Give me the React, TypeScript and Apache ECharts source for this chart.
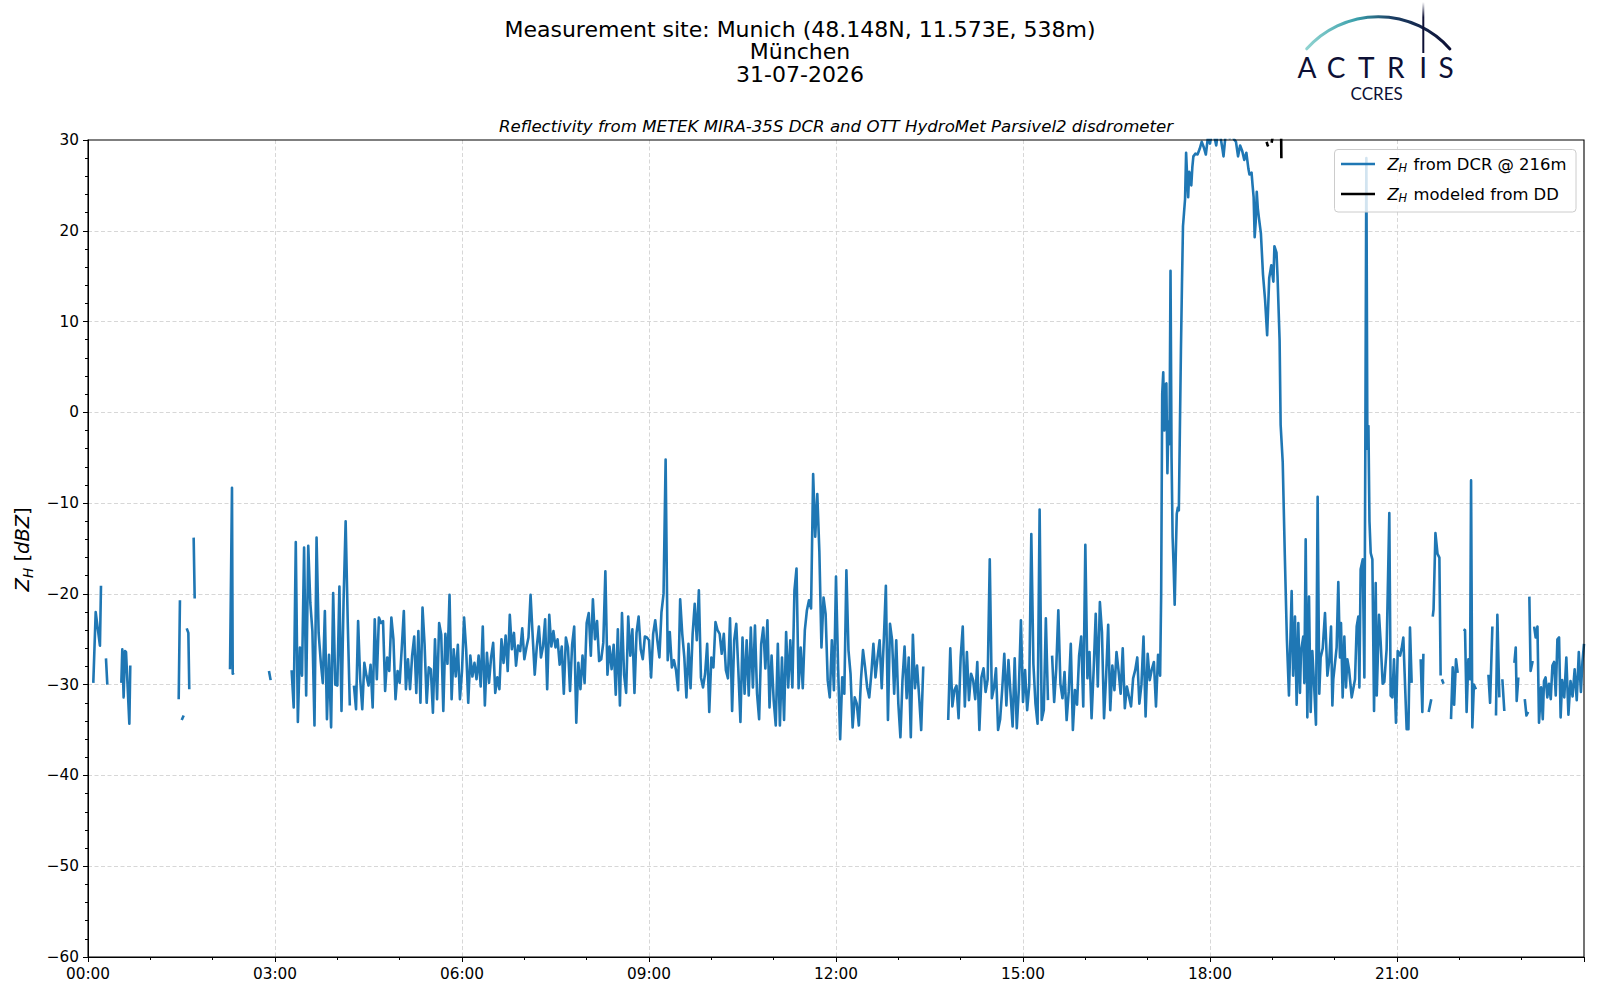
import React, { useEffect, useRef } from 'react';
import * as echarts from 'echarts';

// ---------- axis labels ----------
const xTickLabels = ['00:00', '03:00', '06:00', '09:00', '12:00', '15:00', '18:00', '21:00'];
const yTickLabels = ['\u221260', '\u221250', '\u221240', '\u221230', '\u221220', '\u221210', '0', '10', '20', '30'];

// ---------- DCR reflectivity (time in minutes since 00:00, value in dBZ) ----------
// sparse early pieces
const dcrEarlySegments: number[][][] = [
  [[5.1, -29.8], [7.4, -22.0], [11.5, -25.7], [12.5, -19.1]],
  [[17.3, -27.1], [18.6, -30.0]],
  [[32.1, -29.8], [33.0, -26.1], [34.3, -31.4], [35.6, -26.3], [36.6, -26.4], [39.8, -34.3], [40.7, -27.9]],
  [[87.3, -31.6], [88.5, -20.7]],
  [[90.2, -33.9], [92.1, -33.4]],
  [[95.0, -23.8], [96.6, -24.3], [97.5, -30.5]],
  [[101.7, -13.8], [102.7, -20.5]],
  [[136.7, -28.3], [138.6, -8.3], [139.3, -28.8], [140.5, -28.7]],
  [[174.2, -28.5], [175.8, -29.5]],
];

// dense part, one value every 2 minutes
const BLOCK_STEP = 2;
const BLOCK_A_START = 196;
const dcrBlockA: (number | null)[] = [
  -28.4, -32.5, -14.3, -34.1, -25.9, -29.0, -14.9, -31.2, -14.7, -21.0,
  -24.1, -34.5, -13.8, -24.3, -27.4, -29.8, -21.9, -33.8, -26.7, -34.7,
  -19.9, -30.0, -30.1, -19.2, -32.9, -20.8, -12.0, -23.0, -32.3, null,
  -30.1, -32.7, -23.0, -29.4, -32.7, -27.6, -29.0, -30.1, -27.8, -32.5,
  -22.8, -29.4, -22.6, -23.2, -23.0, -30.7, -27.0, -28.5, -22.6, -25.0,
  -31.6, -28.5, -29.8, -26.0, -21.9, -30.5, -27.2, -30.5, -26.8, -24.7,
  -30.9, -24.1, -32.0, -21.5, -25.6, -32.0, -28.1, -28.3, -33.1, -25.0,
  -31.6, -23.2, -24.5, -32.9, -24.4, -27.7, -20.1, -31.6, -26.1, -29.1,
  -25.6, -31.6, -28.5, -22.6, -26.1, -32.0, -26.8, -29.1, -27.6, -29.4,
  -26.8, -30.2, -23.6, -32.3, -26.5, -29.8, -27.0, -25.4, -30.9, -29.2,
  -30.5, -25.0, -27.6, -24.6, -28.5, -22.3, -26.1, -24.3, -27.9, -25.7,
  -26.3, -23.8, -27.2, -25.9, -24.8, -20.1, -24.6, -28.9, -25.8, -23.6,
  -27.0, -25.8, -22.8, -30.5, -22.3, -25.8, -24.1, -25.9, -25.0, -27.8,
  -25.8, -31.0, -24.8, -25.9, -30.7, -25.6, -23.6, -34.2, -27.6, -30.5,
  -26.8, -29.8, -23.2, -22.1, -26.8, -20.6, -25.0, -23.0, -27.4, -27.2,
  -25.4, -17.5, -28.9, -25.8, -28.3, -25.6, -31.1, -23.9, -32.3, -22.1,
  -28.9, -30.9, -22.5, -26.8, -23.9, -30.9, -24.3, -22.5, -26.1, -27.2,
  -24.7, -24.8,
];

const BLOCK_B_START = 540;
const dcrBlockB: (number | null)[] = [
  -25.1, -29.2, -24.4, -22.9, -25.1, -27.0, -22.0, -20.0, -5.2, -27.3,
  -24.2, -28.1, -27.3, -28.4, -30.6, -20.6, -24.4, -27.0, -31.4, -25.5,
  -30.4, -24.4, -21.1, -25.1, -19.6, -29.2, -30.3, -28.8, -25.5, -33.0,
  -27.0, -28.1, -23.1, -24.0, -24.4, -26.6, -24.4, -28.4, -29.3, -22.7,
  -32.9, -25.1, -23.3, -28.4, -34.1, -24.8, -31.0, -25.1, -31.2, -23.7,
  -30.3, -23.5, -31.0, -33.8, -25.5, -23.7, -28.2, -22.9, -32.5, -26.8,
  -31.7, -34.5, -25.5, -34.5, -27.0, -33.9, -24.2, -30.3, -25.1, -30.3,
  -19.6, -17.2, -30.4, -25.9, -30.4, -24.0, -21.8, -20.7, -21.6, -6.8,
  -13.7, -9.0, -15.4, -25.9, -20.4, -22.2, -29.5, -31.4, -25.1, -30.6,
  -18.1, -28.0, -36.0, -29.2, -31.0, -17.4, -26.2, -28.8, -34.7, -31.4,
  -32.1, -34.5, -29.5, -26.2, -28.1, -30.3, -31.4, -28.8, -25.5, -29.2,
  -27.0, -25.1, -30.4, -25.1, -19.1, -33.9, -23.3, -25.1, -31.0, -25.1,
  -32.1, -35.8, -29.5, -25.8, -31.5, -27.0, -35.8, -24.5, -30.4, -27.9,
  -31.3, -35.0, -28.0, null, null, null, null, null, null, null,
  null, null, null, null, -33.9, -26.0, -32.4, -30.6, -30.1, -33.7,
  -27.0, -23.6, -32.4, -26.4, -31.7, -28.8, -29.5, -31.6, -27.5, -35.0,
  -29.2, -28.2, -30.8, -29.4, -16.2, -31.5, -30.4, -28.2, -35.0, -33.8,
  -30.5, -26.6, -32.3, -27.3, -31.0, -34.6, -27.1, -34.8, -30.5, -22.9,
  -31.9, -28.4, -32.8, -30.1, -13.4, -27.7, -32.1, -34.3, -10.7, -33.9,
  -32.8, -22.7, -31.7, null, -26.8, -31.9, -28.2, -21.8, -29.9, -31.5,
  -28.6, -33.9, -30.8, -25.5, -35.0, -30.6, -32.2, -26.8, -24.7, -32.4,
  -14.6, -29.3, -26.4, -33.7, -28.4, -22.2, -30.2, -20.9, -24.2, -33.7,
  -29.1, -23.4, -32.8, -27.9, -30.6, -26.4, -28.5, -31.0, -26.0, -32.6,
  -30.2, -31.3, -32.4, -29.3, -28.4, -27.0, -32.1, -30.0, -24.7, -33.5,
  -26.6, -29.5, -28.3, -27.5, -32.4, -26.7,
];

// rain event (about one value per minute)
const dcrRainEvent: number[][] = [
  [1032, -29.0], [1033, -20.0], [1034, 2.0], [1035, 4.4], [1036, -2.0], [1037, 3.0], [1038, 3.2],
  [1039, -6.7], [1040, -1.0], [1041, -3.5], [1042, 15.6], [1043, -5.0], [1044, -13.7], [1045, -17.0],
  [1046, -21.2], [1047, -16.0], [1048, -11.2], [1049, -10.5], [1050, -10.8], [1051, -2.0], [1052, 6.7],
  [1053, 14.0], [1054, 20.5], [1055, 22.0], [1056, 23.5], [1057, 28.6], [1058, 26.0], [1059, 23.7],
  [1060, 26.5], [1061, 26.0], [1062, 25.0], [1063, 27.0], [1064, 28.2], [1066, 28.5], [1068, 28.4],
  [1070, 29.0], [1072, 29.8], [1074, 29.2], [1076, 28.4], [1078, 30.3], [1080, 29.6], [1082, 31.0],
  [1084, 30.5], [1086, 29.4], [1088, 31.2], [1090, 30.4], [1092, 29.0], [1093, 28.2], [1095, 30.6],
  [1097, 31.5], [1099, 30.2], [1101, 31.3], [1103, 30.1], [1105, 29.8], [1107, 28.2], [1109, 29.4],
  [1111, 28.8], [1113, 27.8], [1115, 28.6], [1117, 26.8], [1118, 26.2], [1120, 26.4], [1121, 25.0],
  [1122, 23.7], [1123, 19.3], [1124, 21.0], [1125, 24.3], [1126, 22.5], [1127, 21.5], [1129, 19.7],
  [1131, 15.2], [1133, 12.4], [1135, 8.5], [1137, 14.8], [1139, 16.2], [1141, 14.4], [1142, 18.3],
  [1144, 17.6], [1145, 15.0], [1147, 7.9], [1148, -1.4], [1150, -5.5], [1152, -15.7], [1154, -25.0],
  [1156, -31.2],
];

// after the rain
const dcrLateSegments: number[][][] = [
  [[1158.6, -19.7], [1160, -29.0], [1161.8, -22.5], [1163.4, -32.2], [1165, -23.2], [1166.6, -30.9],
   [1167.6, -26.3], [1169.8, -24.7], [1170.8, -29.8], [1172.1, -14.0], [1173.7, -33.6], [1175.3, -20.3],
   [1176.9, -33.0], [1178.5, -26.3], [1180.4, -30.5], [1182, -34.4], [1183.6, -9.3], [1185.2, -31.0],
   [1186.5, -27.0], [1188.5, -26.0], [1190.7, -22.1], [1193, -29.0], [1194.9, -27.2], [1196.5, -23.6],
   [1197.8, -32.3], [1198.7, -29.4], [1201.9, -25.9], [1203.5, -18.7], [1205.1, -27.0], [1206.1, -23.2],
   [1207.7, -31.4], [1209.3, -24.7], [1210.9, -30.3], [1212.2, -27.2], [1213.8, -28.3], [1216.4, -31.4],
   [1219.6, -29.4], [1221.2, -23.6], [1222.8, -22.5], [1223.8, -30.3], [1225, -17.3], [1227, -16.2],
   [1228.6, -29.2], [1229.5, -4.0], [1230.5, 28.0], [1231.5, -4.0], [1232.5, -1.5], [1233.5, -12.0],
   [1234.7, -15.5], [1236.3, -16.2], [1237.9, -32.9], [1239.5, -18.8], [1240.5, -31.2], [1242.7, -22.3],
   [1244.3, -25.4], [1246.2, -29.9], [1247.8, -29.7], [1250, -26.1], [1252.6, -11.1], [1253.9, -31.2],
   [1255.5, -31.4], [1257.1, -27.2], [1259, -34.2], [1260.7, -26.3], [1263, -26.8], [1264.5, -26.0],
   [1266.1, -24.8], [1269.3, -34.9], [1271, -34.9], [1272.5, -23.7], [1274.1, -29.8]],
  [[1282.8, -27.2], [1284.4, -33.0], [1285.4, -26.6]],
  [[1290.5, -33.0], [1293, -31.6]],
  [[1294.4, -22.5], [1295.2, -21.7], [1297, -13.3], [1299, -15.6], [1300.8, -16.0], [1302, -29.0]],
  [[1303.2, -29.4], [1304.8, -29.9]],
  [[1312, -33.8], [1313.6, -28.1], [1315, -32.2], [1316.8, -27.2], [1318.4, -28.7]],
  [[1324, -23.9], [1325.5, -24.0], [1327, -33.0], [1328.7, -27.2], [1330.3, -29.4], [1331.3, -7.5],
   [1332.5, -34.7], [1334, -30.0], [1336, -30.5]],
  [[1348, -28.9], [1349.6, -32.0], [1351.8, -23.6]],
  [[1355.3, -33.4], [1356.6, -22.3], [1358.5, -31.4]],
  [[1361.4, -29.4], [1363.3, -32.9]],
  [[1373, -27.6], [1374.3, -25.9], [1375.2, -31.8], [1376.8, -29.2]],
  [[1383, -31.6], [1384.6, -33.4], [1386.2, -33.0]],
  [[1387.4, -20.3], [1388.6, -28.5], [1390.6, -27.4]],
  [[1392, -23.6], [1393.5, -24.8], [1395.2, -23.6], [1396.7, -34.2], [1398.7, -30.3], [1400.3, -33.8],
   [1401.5, -29.6], [1403, -29.2], [1404.7, -31.4], [1406.3, -29.9], [1408, -31.6], [1409.6, -27.9],
   [1411.2, -27.5], [1412.8, -31.2], [1414.4, -25.0], [1416, -24.8], [1417.5, -33.6], [1419, -29.5],
   [1421, -31.4], [1423, -27.0], [1425, -33.3], [1427, -29.6], [1429, -31.3], [1431, -28.3],
   [1433, -31.7], [1435, -26.4], [1437, -30.8], [1438.5, -27.5], [1440, -25.5]],
];

// Z_H modeled from the disdrometer
const ddSegments: number[][][] = [
  [[1134.5, 29.8], [1135.5, 29.4], [1136.2, 29.5]],
  [[1139.3, 29.7], [1140.6, 30.5]],
  [[1148.4, 31.5], [1148.7, 28.0]],
];

function addSegments(out: any[], segs: number[][][]) {
  for (const s of segs) {
    for (const p of s) out.push([p[0], p[1]]);
    out.push([s[s.length - 1][0] + 0.05, '-']);
  }
}
function addBlock(out: any[], start: number, vals: (number | null)[]) {
  vals.forEach((v, i) => out.push([start + i * BLOCK_STEP, v === null ? '-' : v]));
}
function buildDcr(): any[] {
  const out: any[] = [];
  addSegments(out, dcrEarlySegments);
  addBlock(out, BLOCK_A_START, dcrBlockA);
  addBlock(out, BLOCK_B_START, dcrBlockB);
  dcrRainEvent.forEach((p) => out.push([p[0], p[1]]));
  addSegments(out, dcrLateSegments);
  return out;
}
function buildDd(): any[] {
  const out: any[] = [];
  addSegments(out, ddSegments);
  return out;
}

const FONT = '"DejaVu Sans", "Liberation Sans", sans-serif';
const LOGO_FONT = 'Lato, "Open Sans", sans-serif';

function txt(x: number, y: number, text: string, font: string, fill = '#000', align = 'left', extra: any = {}) {
  return {
    type: 'text',
    x,
    y,
    silent: true,
    style: {
      text,
      font,
      fill,
      align,
      verticalAlign: 'middle',
      textAlign: align,
      textVerticalAlign: 'middle',
    },
    ...extra,
  };
}

export default function App() {
  const ref = useRef<HTMLDivElement>(null);

  useEffect(() => {
    document.body.style.margin = '0';
    if (!ref.current) return;
    const chart = echarts.init(ref.current, undefined, { renderer: 'svg' });

    const navy = '#0d1035';
    const arcGrad = new echarts.graphic.LinearGradient(0, 0, 1, 0, [
      { offset: 0, color: '#8fd3d0' },
      { offset: 0.35, color: '#3a9fab' },
      { offset: 0.6, color: '#1b3d63' },
      { offset: 1, color: navy },
    ]);
    const barGrad = new echarts.graphic.LinearGradient(0, 0, 0, 1, [
      { offset: 0, color: '#ffffff' },
      { offset: 0.3, color: navy },
      { offset: 1, color: navy },
    ]);

    const legendRow = (y: number, color: string, label: string) => [
      {
        type: 'line',
        silent: true,
        shape: { x1: 1341, y1: y, x2: 1375, y2: y },
        style: { stroke: color, lineWidth: 2.6 },
        z: 101,
      },
      txt(1387.5, y, 'Z', 'italic 16.4px ' + FONT, '#000', 'left', { z: 101 }),
      txt(1398.6, y + 4.4, 'H', 'italic 11.4px ' + FONT, '#000', 'left', { z: 101 }),
      txt(1413.5, y, label, '16.4px ' + FONT, '#000', 'left', { z: 101 }),
    ];

    const letters = [
      ['A', 1307], ['C', 1336], ['T', 1366.3], ['R', 1395.8], ['I', 1423.2], ['S', 1446.2],
    ];

    const option: any = {
      animation: false,
      backgroundColor: '#ffffff',
      grid: {
        left: 88,
        top: 140,
        width: 1496,
        height: 817,
        show: false,
        containLabel: false,
      },
      xAxis: {
        type: 'value',
        min: 0,
        max: 1440,
        interval: 180,
        axisLine: { show: true, onZero: false, lineStyle: { color: '#000', width: 1 } },
        axisTick: { show: true, length: 5, lineStyle: { color: '#000', width: 1 } },
        minorTick: { show: true, splitNumber: 3, length: 3, lineStyle: { color: '#000', width: 1 } },
        axisLabel: {
          color: '#000',
          fontSize: 15.3,
          fontFamily: FONT,
          margin: 9,
          formatter: (v: number) => xTickLabels[Math.round(v / 180)] ?? '',
        },
        splitLine: { show: true, showMinLine: false, showMaxLine: false, lineStyle: { color: '#d2d2d2', width: 0.9, type: [4, 2.5] } },
        minorSplitLine: { show: false },
      },
      yAxis: {
        type: 'value',
        min: -60,
        max: 30,
        interval: 10,
        axisLine: { show: true, onZero: false, lineStyle: { color: '#000', width: 1 } },
        axisTick: { show: true, length: 5, lineStyle: { color: '#000', width: 1 } },
        minorTick: { show: true, splitNumber: 5, length: 3, lineStyle: { color: '#000', width: 1 } },
        axisLabel: {
          color: '#000',
          fontSize: 15.3,
          fontFamily: FONT,
          margin: 9,
          formatter: (v: number) => yTickLabels[Math.round((v + 60) / 10)] ?? '',
        },
        splitLine: { show: true, showMinLine: false, showMaxLine: false, lineStyle: { color: '#d2d2d2', width: 0.9, type: [4, 2.5] } },
      },
      series: [
        {
          type: 'line',
          name: 'ZH from DCR @ 216m',
          data: buildDcr(),
          showSymbol: false,
          symbol: 'none',
          connectNulls: false,
          clip: true,
          silent: true,
          lineStyle: { color: '#1f77b4', width: 2.6, join: 'round' },
          emphasis: { disabled: true },
          z: 3,
        },
        {
          type: 'line',
          name: 'ZH modeled from DD',
          data: buildDd(),
          showSymbol: false,
          symbol: 'none',
          connectNulls: false,
          clip: true,
          silent: true,
          lineStyle: { color: '#000000', width: 2.6, join: 'round' },
          emphasis: { disabled: true },
          z: 4,
        },
      ],
      graphic: [
        // plot frame (spines)
        {
          type: 'rect',
          silent: true,
          shape: { x: 88, y: 140, width: 1496, height: 817 },
          style: { fill: 'none', stroke: '#000', lineWidth: 1.1 },
          z: 50,
        },
        // titles
        txt(800, 29.5, 'Measurement site: Munich (48.148N, 11.573E, 538m)', '22px ' + FONT, '#000', 'center'),
        txt(800, 51.5, 'München', '22px ' + FONT, '#000', 'center'),
        txt(800, 74.5, '31-07-2026', '22px ' + FONT, '#000', 'center'),
        txt(836, 126.5, 'Reflectivity from METEK MIRA-35S DCR and OTT HydroMet Parsivel2 disdrometer', 'italic 16.6px ' + FONT, '#000', 'center'),
        // y axis label (rotated)
        {
          type: 'group',
          x: 22.5,
          y: 548.5,
          rotation: Math.PI / 2,
          silent: true,
          children: [
            txt(-43, 0, 'Z', 'italic 19.5px ' + FONT),
            txt(-29.5, 5.2, 'H', 'italic 13.6px ' + FONT),
            txt(-13, 0, '[', '19.5px ' + FONT),
            txt(-5.5, 0, 'dBZ', 'italic 19.5px ' + FONT),
            txt(33.5, 0, ']', '19.5px ' + FONT),
          ],
        },
        // legend
        {
          type: 'rect',
          silent: true,
          shape: { x: 1334.5, y: 149.5, width: 241.5, height: 62.5, r: 3.5 },
          style: { fill: 'rgba(255,255,255,0.8)', stroke: '#cccccc', lineWidth: 1 },
          z: 100,
        },
        ...legendRow(164, '#1f77b4', 'from DCR @ 216m'),
        ...legendRow(194, '#000000', 'modeled from DD'),
        // logo
        {
          type: 'arc',
          silent: true,
          shape: { cx: 1378.3, cy: 112.4, r: 95.7, startAngle: -2.4156, endAngle: -0.7257, clockwise: true },
          style: { stroke: arcGrad, lineWidth: 3, fill: 'none', lineCap: 'round' },
        },
        {
          type: 'rect',
          silent: true,
          shape: { x: 1422.3, y: 2, width: 2, height: 51 },
          style: { fill: barGrad },
        },
        ...letters.map((l) => txt(l[1] as number, 67.2, l[0] as string, '28px ' + LOGO_FONT, navy, 'center')),
        txt(1376.7, 93.5, 'CCRES', '17px ' + LOGO_FONT, navy, 'center'),
      ],
    };

    chart.setOption(option);
    return () => chart.dispose();
  }, []);

  return <div ref={ref} style={{ width: 1600, height: 1000 }} />;
}
